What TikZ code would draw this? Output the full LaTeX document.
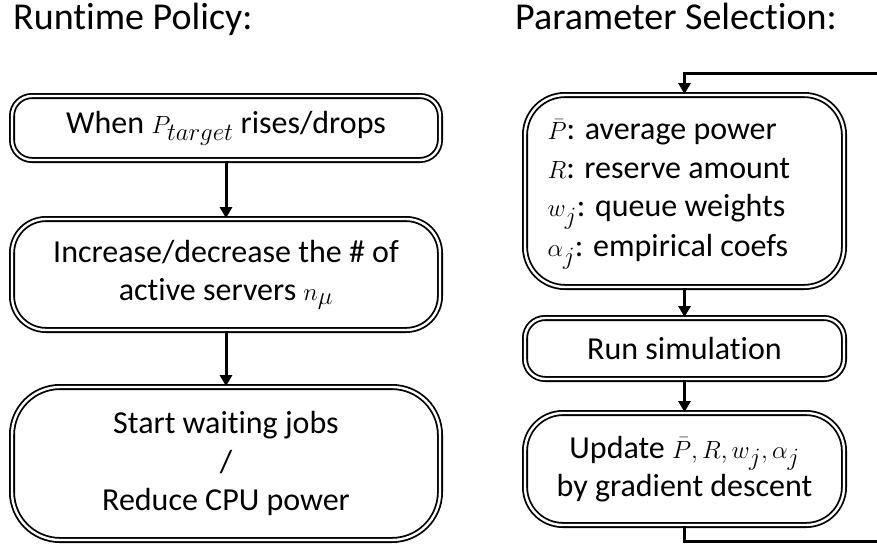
\documentclass[tikz,border=0pt]{standalone}
\usepackage{fontspec}
\setmainfont{Carlito}[Ligatures=NoCommon]
\usetikzlibrary{arrows.meta}
% math set a little larger than the surrounding text
\newcommand\mth[1]{{\fontsize{36}{38.5}\selectfont$#1$}}
\begin{document}
\begin{tikzpicture}[x=1pt,y=-1pt,
  box/.style={draw, double, line width=1.8pt, double distance=2.4pt,
    inner sep=0pt, align=center, font={\fontsize{32}{38.5}\selectfont}},
  flow/.style={line width=3pt, -{Triangle[width=12pt,length=11pt]}},
  loopline/.style={line width=3pt},
  heading/.style={anchor=base west, inner sep=0pt, font={\fontsize{38}{44}\selectfont}}]
\useasboundingbox (0,0) rectangle (877,546);
\fill[white] (0,0) rectangle (877,546);

% headings
\node[heading] (hleft) at (13,29) {Runtime Policy:};
\node[heading] (hright) at (515,29) {Parameter Selection:};

% runtime policy column
\node[box, rounded corners=20pt, minimum width=428pt, minimum height=64pt]
  (when) at (226,128) {When \mth{P_{target}} rises/drops};
\node[box, rounded corners=34pt, minimum width=428pt, minimum height=111pt]
  (servers) at (226,274.5) {Increase/decrease the \# of\\active servers \mth{n_\mu}};
\node[box, rounded corners=48pt, minimum width=428pt, minimum height=153pt]
  (start) at (226,463.5) {Start waiting jobs\\/\\Reduce CPU power};

\draw[flow] (when) -- (servers);
\draw[flow] (servers) -- (start);

% parameter selection column
\node[box, rounded corners=40pt, minimum width=319pt, minimum height=192pt]
  (params) at (684.5,191)
  {\makebox[274pt][l]{\begin{tabular}{@{}l@{}}
    \mth{\bar{P}}: average power\\
    \mth{R}: reserve amount\\
    \mth{w_j}: queue weights\\
    \mth{\alpha_j}: empirical coefs
  \end{tabular}}};
\node[box, rounded corners=20pt, minimum width=319pt, minimum height=61pt]
  (sim) at (684.5,348.5) {Run simulation};
\node[box, rounded corners=38pt, minimum width=319pt, minimum height=112pt]
  (update) at (684.5,469) {Update \mth{\bar{P}, R, w_j, \alpha_j}\\by gradient descent};

\draw[flow] (params) -- (sim);
\draw[flow] (sim) -- (update);

% feedback loop leaving and entering at the right edge
\coordinate (loopin) at (877,73);
\coordinate (loopout) at (877,541);
\draw[flow] (loopin) -| (params.north);
\draw[loopline] (update.south) |- (loopout);
\end{tikzpicture}
\end{document}
